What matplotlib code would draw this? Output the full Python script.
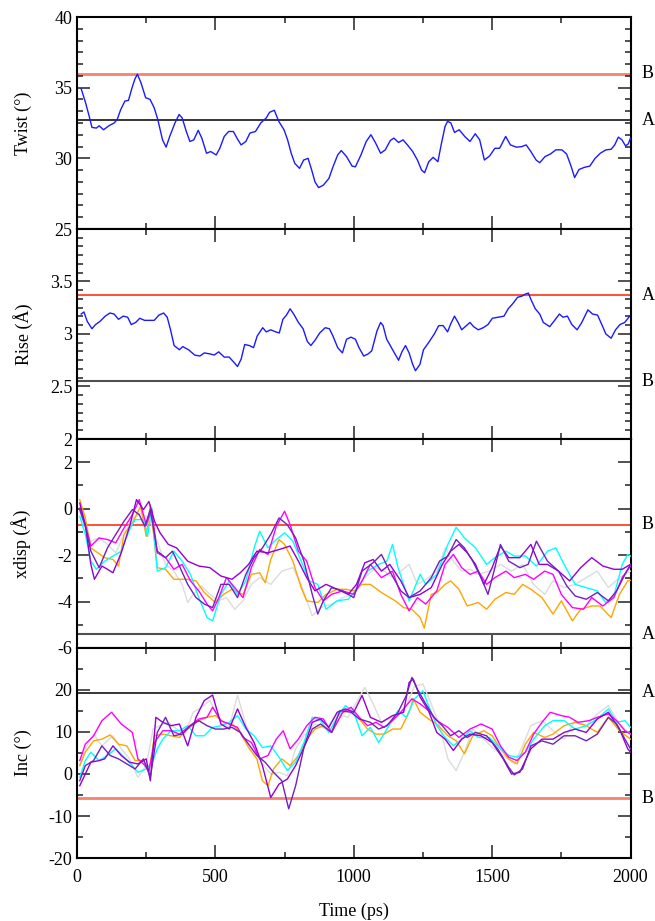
import matplotlib
matplotlib.use("Agg")
import matplotlib.pyplot as plt
from matplotlib.ticker import MultipleLocator, FuncFormatter

plt.rcParams['font.family'] = ['Liberation Serif', 'DejaVu Serif']

# ---- Twist (deg) ----
twist_t = [15, 31, 44, 54, 70, 80, 96, 115, 134, 145, 158, 173, 186, 199, 209, 218, 231, 248, 264, 279,
           292, 309, 322, 335, 354, 369, 380, 395, 408, 422, 438, 451, 468, 483, 503, 516, 532, 548, 565, 580,
           593, 610, 625, 645, 664, 684, 696, 713, 729, 748, 761, 774, 787, 804, 819, 835, 848, 860, 873, 890,
           910, 925, 942, 955, 974, 994, 1006, 1026, 1045, 1062, 1078, 1097, 1114, 1132, 1145, 1162, 1178, 1194, 1213, 1230,
           1245, 1256, 1271, 1287, 1304, 1317, 1330, 1339, 1351, 1364, 1381, 1401, 1420, 1439, 1455, 1472, 1491, 1510, 1527, 1549,
           1566, 1588, 1607, 1623, 1640, 1659, 1672, 1691, 1711, 1730, 1752, 1769, 1786, 1798, 1814, 1833, 1853, 1872, 1891, 1911,
           1930, 1943, 1956, 1969, 1982, 1992, 2000]
twist_v = [34.93, 33.93, 32.98, 32.19, 32.14, 32.3, 32.02, 32.3, 32.5, 32.74, 33.45, 34.05, 34.1, 35.0, 35.6, 35.95, 35.36, 34.29, 34.17, 33.57,
           32.74, 31.31, 30.79, 31.55, 32.5, 33.1, 32.86, 31.9, 31.19, 31.31, 31.98, 31.43, 30.36, 30.48, 30.24, 30.71, 31.55, 31.9, 31.9, 31.36,
           30.95, 31.19, 31.79, 31.9, 32.5, 32.86, 33.26, 33.4, 32.62, 32.02, 31.31, 30.36, 29.64, 29.29, 29.88, 30.0, 29.17, 28.33, 27.93, 28.1,
           28.57, 29.4, 30.24, 30.55, 30.12, 29.45, 29.4, 30.24, 31.19, 31.67, 31.12, 30.36, 30.6, 31.26, 31.43, 31.12, 31.31, 30.95, 30.48, 29.88,
           29.17, 28.98, 29.76, 30.07, 29.76, 31.07, 32.26, 32.62, 32.5, 31.83, 32.02, 31.55, 31.19, 31.74, 31.31, 29.88, 30.17, 30.71, 30.71, 31.55,
           30.95, 30.79, 30.83, 30.95, 30.48, 29.88, 29.69, 30.12, 30.31, 30.6, 30.6, 30.31, 29.4, 28.64, 29.21, 29.36, 29.45, 30.0, 30.36, 30.6,
           30.64, 30.95, 31.5, 31.31, 30.88, 31.02, 31.43]

# ---- Rise (A) ----
rise_t = [15, 25, 37, 54, 67, 83, 102, 119, 134, 150, 167, 183, 196, 212, 227, 244, 264, 279, 296, 313,
          326, 338, 351, 370, 382, 403, 425, 444, 460, 481, 496, 512, 532, 550, 567, 580, 593, 606, 623, 638,
          651, 671, 684, 700, 718, 731, 744, 757, 770, 783, 800, 817, 832, 845, 860, 877, 897, 912, 925, 942,
          959, 974, 990, 1006, 1019, 1036, 1052, 1065, 1084, 1097, 1106, 1119, 1136, 1149, 1162, 1174, 1187, 1200, 1213, 1223,
          1239, 1252, 1271, 1291, 1307, 1323, 1339, 1351, 1364, 1377, 1390, 1407, 1420, 1433, 1450, 1468, 1485, 1501, 1523, 1543,
          1558, 1575, 1592, 1607, 1620, 1631, 1640, 1656, 1672, 1685, 1708, 1723, 1743, 1756, 1772, 1788, 1807, 1824, 1846, 1863,
          1881, 1898, 1911, 1930, 1946, 1962, 1979, 1997]
rise_v = [3.19, 3.21, 3.12, 3.05, 3.09, 3.12, 3.17, 3.2, 3.19, 3.14, 3.17, 3.16, 3.09, 3.11, 3.15, 3.13, 3.13, 3.13, 3.18, 3.2,
          3.16, 3.04, 2.89, 2.85, 2.88, 2.85, 2.8, 2.79, 2.82, 2.81, 2.8, 2.83, 2.78, 2.78, 2.73, 2.69, 2.76, 2.9, 2.89, 2.87,
          2.98, 3.06, 3.02, 3.04, 3.02, 3.01, 3.14, 3.18, 3.24, 3.19, 3.11, 3.05, 2.93, 2.89, 2.94, 3.01, 3.06, 3.05, 2.98, 2.87,
          2.82, 2.95, 2.97, 2.95, 2.87, 2.79, 2.81, 2.84, 3.03, 3.11, 3.08, 2.95, 2.87, 2.81, 2.75, 2.83, 2.89, 2.82, 2.71, 2.65,
          2.71, 2.85, 2.92, 3.0, 3.08, 3.08, 3.02, 3.1, 3.17, 3.11, 3.04, 3.08, 3.11, 3.07, 3.04, 3.06, 3.09, 3.15, 3.16, 3.17,
          3.24, 3.29, 3.35, 3.36, 3.38, 3.39, 3.33, 3.24, 3.19, 3.11, 3.07, 3.12, 3.19, 3.16, 3.17, 3.09, 3.04, 3.11, 3.23, 3.19,
          3.18, 3.08, 3.0, 2.96, 3.04, 3.09, 3.11, 3.17]

# ---- xdisp (A), six runs ----
xd_gray_t = [10, 30, 50, 80, 110, 140, 170, 200, 230, 260, 290, 320, 350, 380, 400, 420, 450, 480, 510, 540,
             570, 600, 630, 660, 700, 740, 780, 810, 850, 880, 920, 960, 1000, 1040, 1080, 1110, 1140, 1170, 1200, 1230,
             1270, 1300, 1330, 1360, 1390, 1420, 1450, 1490, 1530, 1570, 1610, 1650, 1690, 1720, 1760, 1800, 1840, 1880, 1920, 1960, 2000]
xd_gray_v = [-0.11, -0.83, -1.4, -1.26, -1.54, -1.9, -1.11, -0.47, -0.19, -0.4, -1.4, -2.4, -2.69, -3.26, -4.04, -3.69, -3.33, -3.69, -3.97, -3.83,
             -4.33, -3.97, -3.26, -2.97, -3.26, -2.69, -2.54, -3.26, -4.61, -4.26, -4.11, -3.83, -3.69, -2.97, -2.54, -2.69, -2.97, -2.69, -2.4, -3.26,
             -2.97, -2.69, -1.69, -2.26, -2.69, -2.61, -2.83, -2.69, -2.4, -2.69, -2.4, -3.26, -3.69, -3.11, -3.4, -3.26, -2.97, -2.69, -3.4, -2.97, -2.69]

xd_orange_t = [10, 30, 50, 100, 130, 150, 170, 200, 230, 250, 265, 290, 320, 350, 400, 430, 460, 480, 500, 530,
               560, 600, 630, 660, 680, 700, 730, 750, 780, 810, 830, 870, 900, 940, 970, 1000, 1030, 1060, 1100, 1150,
               1180, 1210, 1240, 1255, 1280, 1300, 1330, 1350, 1380, 1410, 1450, 1480, 1510, 1550, 1580, 1610, 1640, 1680, 1720, 1750,
               1790, 1820, 1860, 1890, 1930, 1960, 1990, 2000]
xd_orange_v = [0.39, -0.4, -1.69, -2.11, -2.19, -2.47, -1.11, -0.61, 0.1, -1.19, 0.17, -2.54, -2.61, -3.04, -3.04, -3.11, -3.61, -3.83, -4.04, -3.69,
               -3.47, -3.69, -2.83, -2.76, -3.19, -2.19, -1.33, -1.54, -2.26, -3.4, -3.97, -4.04, -3.69, -3.47, -3.47, -3.54, -3.26, -3.26, -3.61, -3.97,
               -4.26, -4.33, -4.69, -5.14, -3.69, -3.61, -3.26, -3.11, -3.47, -4.19, -4.04, -4.33, -3.9, -3.61, -3.69, -3.26, -3.47, -3.83, -4.54, -3.97,
               -4.83, -4.33, -4.19, -4.19, -4.69, -3.69, -3.11, -3.09]

xd_cyan_t = [10, 30, 50, 70, 100, 130, 160, 190, 210, 240, 255, 270, 290, 320, 350, 380, 410, 440, 470, 490,
             520, 550, 580, 610, 640, 660, 690, 720, 750, 780, 810, 840, 870, 900, 940, 980, 1020, 1050, 1090, 1120,
             1140, 1160, 1200, 1240, 1260, 1300, 1340, 1370, 1400, 1440, 1480, 1510, 1550, 1580, 1620, 1660, 1700, 1730, 1760, 1800,
             1840, 1880, 1910, 1940, 1970, 1990, 2000]
xd_cyan_v = [-0.33, -1.11, -2.26, -2.61, -2.26, -2.04, -1.83, -0.9, -0.47, -0.47, -1.19, 0.03, -2.69, -2.54, -1.83, -2.26, -2.83, -3.83, -4.69, -4.83,
             -3.69, -3.11, -3.69, -3.11, -1.69, -0.97, -1.69, -1.33, -1.04, -1.4, -2.26, -3.11, -3.26, -4.33, -3.97, -3.9, -3.33, -2.69, -2.4, -2.26,
             -1.54, -2.54, -3.97, -2.83, -3.26, -2.83, -1.54, -0.8, -1.26, -1.69, -2.4, -2.11, -1.83, -2.04, -2.04, -2.47, -1.83, -1.69, -2.4, -3.26,
             -3.4, -3.54, -4.04, -3.76, -2.4, -1.97, -2.04]

xd_magenta_t = [10, 30, 50, 80, 110, 140, 170, 200, 225, 250, 270, 290, 320, 350, 380, 410, 440, 470, 490, 510,
                540, 570, 600, 630, 660, 690, 720, 750, 770, 800, 830, 860, 890, 920, 960, 1000, 1030, 1060, 1100, 1140,
                1170, 1200, 1230, 1260, 1300, 1330, 1360, 1390, 1420, 1450, 1480, 1510, 1550, 1580, 1620, 1650, 1690, 1720, 1750, 1790,
                1830, 1860, 1900, 1940, 1970, 2000]
xd_magenta_v = [0.03, -0.69, -1.61, -1.26, -1.33, -1.47, -0.83, -0.26, 0.39, -0.69, -0.04, -1.9, -2.11, -2.61, -2.4, -3.11, -3.54, -4.11, -4.4, -3.9,
                -2.97, -3.4, -3.83, -2.54, -1.76, -1.97, -0.76, -0.11, -0.69, -1.83, -2.26, -3.4, -3.97, -3.69, -3.54, -3.69, -3.11, -2.4, -2.97, -2.69,
                -3.69, -4.4, -3.83, -4.11, -3.54, -2.4, -1.97, -2.54, -2.83, -2.69, -3.26, -2.97, -2.69, -2.97, -2.83, -3.04, -2.69, -2.83, -3.69, -4.26,
                -4.33, -3.83, -4.19, -3.83, -2.97, -2.47]

xd_violet_t = [10, 30, 50, 63, 90, 110, 130, 160, 190, 215, 240, 260, 280, 300, 330, 360, 400, 440, 480, 520,
               560, 590, 620, 650, 690, 730, 770, 800, 830, 860, 900, 940, 980, 1010, 1040, 1070, 1100, 1130, 1170, 1200,
               1240, 1280, 1320, 1350, 1380, 1410, 1440, 1470, 1500, 1530, 1560, 1600, 1640, 1670, 1700, 1740, 1780, 1820, 1860, 1900,
               1940, 1970, 2000]
xd_violet_v = [0.24, -0.69, -2.4, -3.04, -2.47, -2.61, -2.76, -1.9, -0.76, 0.39, -0.04, 0.31, -0.54, -1.04, -1.54, -1.69, -2.26, -2.47, -2.54, -2.9,
               -3.04, -2.76, -2.4, -1.83, -1.9, -1.76, -1.61, -2.26, -2.97, -3.54, -3.26, -3.47, -3.69, -3.26, -2.33, -2.19, -2.69, -2.4, -3.11, -3.83,
               -3.69, -3.4, -2.4, -1.83, -1.54, -1.9, -2.4, -3.26, -2.54, -1.61, -2.11, -2.11, -1.54, -2.4, -2.4, -2.69, -3.11, -2.54, -2.11, -2.47,
               -2.61, -2.61, -2.4]

xd_indigo_t = [10, 30, 50, 80, 110, 140, 170, 200, 225, 245, 265, 290, 320, 345, 370, 400, 430, 460, 490, 520,
               550, 580, 610, 640, 670, 700, 730, 760, 790, 820, 850, 870, 890, 920, 960, 1000, 1030, 1070, 1100, 1130,
               1170, 1200, 1240, 1280, 1310, 1340, 1370, 1400, 1430, 1460, 1485, 1510, 1530, 1560, 1600, 1630, 1660, 1700, 1740, 1770,
               1800, 1840, 1880, 1920, 1950, 1980, 2000]
xd_indigo_v = [-0.04, -0.76, -1.83, -2.54, -1.69, -1.11, -0.54, -0.04, -0.26, -0.76, -0.04, -1.83, -2.11, -1.83, -2.47, -3.26, -3.83, -4.11, -4.26, -3.26,
               -3.26, -3.83, -2.83, -2.11, -1.69, -1.11, -0.4, -0.69, -1.26, -2.26, -3.69, -4.54, -3.97, -3.4, -3.54, -3.83, -2.69, -2.33, -1.97, -2.69,
               -3.54, -3.83, -3.54, -2.97, -2.26, -2.04, -1.33, -1.69, -2.26, -2.97, -3.69, -2.54, -1.54, -2.26, -2.54, -2.4, -1.4, -2.26, -2.69, -3.33,
               -3.76, -3.9, -3.61, -3.97, -3.54, -2.83, -2.4]

# ---- Inc (deg), six runs ----
inc_gray_t = [10, 30, 60, 90, 130, 160, 190, 220, 250, 275, 300, 330, 360, 390, 420, 450, 480, 510, 550, 580,
              610, 640, 670, 700, 730, 760, 790, 820, 860, 900, 940, 980, 1010, 1040, 1070, 1100, 1140, 1180, 1220, 1250,
              1280, 1310, 1340, 1370, 1400, 1430, 1470, 1500, 1540, 1580, 1610, 1640, 1680, 1720, 1760, 1800, 1840, 1880, 1920, 1960, 2000]
inc_gray_v = [2.0, 6.0, 9.5, 6.7, 9.1, 6.0, 3.6, -0.8, 2.0, 10.7, 11.5, 12.3, 10.7, 9.5, 14.7, 15.9, 17.5, 13.5, 11.1, 18.7,
              11.9, 6.7, 2.4, 0.0, 0.4, -0.4, 6.0, 9.1, 11.9, 10.7, 14.3, 13.5, 17.1, 20.6, 16.7, 12.3, 13.5, 14.7, 21.0, 21.4,
              16.7, 11.5, 3.6, 0.8, 5.2, 10.7, 8.3, 6.3, 4.4, 2.4, 6.7, 11.5, 12.7, 10.3, 8.3, 12.7, 11.5, 14.3, 16.3, 11.9, 9.5]

inc_orange_t = [10, 30, 60, 90, 120, 150, 180, 210, 240, 260, 280, 310, 340, 370, 400, 440, 470, 500, 530, 560,
                590, 620, 650, 670, 690, 710, 740, 770, 800, 830, 860, 890, 920, 960, 990, 1020, 1050, 1080, 1110, 1140,
                1170, 1200, 1215, 1240, 1270, 1300, 1340, 1370, 1400, 1430, 1470, 1500, 1530, 1560, 1590, 1620, 1650, 1690, 1720, 1760,
                1800, 1840, 1880, 1920, 1960, 2000]
inc_orange_v = [2.0, 5.2, 7.9, 8.3, 9.3, 7.1, 6.7, 3.2, 3.2, 0.4, 9.1, 9.5, 9.1, 8.7, 10.7, 12.7, 13.5, 13.9, 12.3, 11.9,
                9.9, 6.3, 3.6, -1.6, -2.8, 1.2, 3.6, 2.0, 4.4, 8.3, 10.7, 11.5, 9.9, 14.7, 15.1, 13.1, 10.7, 9.5, 9.5, 10.7,
                10.7, 14.7, 17.9, 14.7, 13.1, 11.9, 9.1, 7.9, 4.8, 9.1, 10.3, 9.1, 6.0, 3.6, 2.4, 7.1, 9.9, 8.7, 9.5, 11.5,
                12.3, 11.5, 9.9, 13.5, 10.3, 8.3]

inc_cyan_t = [10, 30, 50, 80, 110, 140, 170, 200, 220, 250, 275, 290, 310, 340, 370, 400, 430, 460, 490, 520,
              550, 580, 610, 640, 670, 700, 730, 760, 790, 820, 850, 880, 910, 940, 970, 1000, 1030, 1060, 1090, 1120,
              1160, 1190, 1220, 1250, 1270, 1300, 1330, 1360, 1390, 1420, 1450, 1490, 1520, 1560, 1590, 1620, 1650, 1690, 1720, 1760,
              1800, 1840, 1880, 1920, 1950, 1980, 2000]
inc_cyan_v = [-0.8, 3.2, 5.2, 3.2, 4.4, 6.0, 4.0, 2.0, 0.4, 1.2, 3.2, 6.0, 8.3, 10.3, 10.3, 11.5, 9.1, 9.1, 11.1, 11.5,
              12.3, 13.9, 10.7, 9.1, 6.3, 6.7, 4.0, 0.8, 2.8, 7.5, 13.5, 12.7, 9.9, 13.5, 16.3, 14.7, 9.1, 11.1, 7.5, 10.7,
              15.1, 13.5, 17.9, 19.8, 16.3, 11.5, 8.7, 6.7, 8.3, 10.3, 8.7, 8.7, 6.7, 4.4, 4.0, 5.2, 8.3, 11.5, 12.7, 12.7,
              10.7, 11.5, 13.1, 15.5, 12.3, 12.7, 11.1]

inc_magenta_t = [10, 30, 60, 90, 125, 160, 200, 220, 240, 260, 280, 310, 340, 370, 400, 440, 470, 490, 520, 550,
                 580, 600, 630, 660, 690, 720, 745, 770, 800, 830, 860, 890, 920, 960, 990, 1020, 1050, 1080, 1110, 1140,
                 1170, 1210, 1240, 1270, 1300, 1340, 1380, 1420, 1460, 1500, 1530, 1560, 1590, 1620, 1650, 1680, 1710, 1750, 1780, 1810,
                 1850, 1880, 1920, 1950, 1980, 2000]
inc_magenta_v = [3.2, 7.1, 9.1, 12.7, 14.7, 11.9, 9.9, 3.6, 2.4, 0.8, 7.5, 10.3, 10.3, 9.5, 11.1, 13.1, 13.5, 15.9, 12.7, 11.9,
                 11.1, 8.7, 7.5, 3.6, 4.4, 8.3, 10.3, 6.0, 8.3, 11.5, 13.5, 13.1, 9.9, 14.7, 15.9, 13.5, 11.5, 12.3, 11.1, 12.7,
                 14.7, 17.9, 16.7, 15.1, 12.7, 11.1, 8.7, 10.7, 11.9, 10.7, 6.7, 4.0, 3.2, 5.2, 9.5, 12.3, 14.7, 13.9, 13.5, 12.3,
                 12.7, 13.5, 14.3, 12.7, 10.3, 9.5]

inc_violet_t = [10, 30, 50, 80, 100, 130, 160, 190, 220, 250, 265, 285, 310, 340, 370, 400, 430, 460, 490, 520,
                550, 580, 610, 640, 670, 700, 730, 760, 790, 820, 850, 880, 910, 940, 970, 1000, 1030, 1060, 1100, 1140,
                1180, 1200, 1215, 1240, 1270, 1300, 1330, 1360, 1390, 1420, 1460, 1500, 1540, 1570, 1600, 1640, 1680, 1720, 1760, 1800,
                1840, 1880, 1920, 1960, 1990, 2000]
inc_violet_v = [-2.8, 0.0, 2.8, 3.2, 3.6, 6.7, 4.4, 2.8, 2.4, 3.6, -1.6, 13.5, 12.3, 11.5, 11.9, 6.7, 13.5, 17.5, 18.8, 11.9,
                10.7, 15.5, 11.1, 7.5, 2.0, -5.6, -2.4, -1.2, 2.0, 6.3, 12.3, 13.1, 11.1, 14.7, 15.5, 14.7, 18.7, 13.5, 12.3, 13.9,
                14.7, 21.8, 22.6, 18.3, 15.1, 9.9, 8.3, 5.6, 8.3, 9.5, 9.1, 7.5, 3.6, 0.0, 0.4, 6.0, 8.3, 8.3, 9.9, 10.7,
                9.9, 13.1, 14.7, 10.7, 6.0, 5.2]

inc_indigo_t = [10, 30, 60, 90, 120, 150, 180, 210, 240, 265, 290, 320, 350, 380, 410, 440, 470, 500, 530, 560,
                590, 620, 650, 680, 710, 740, 765, 790, 820, 850, 880, 920, 950, 990, 1020, 1060, 1090, 1120, 1160, 1190,
                1210, 1230, 1260, 1290, 1320, 1350, 1380, 1410, 1440, 1480, 1520, 1560, 1580, 1610, 1640, 1680, 1720, 1760, 1800, 1840,
                1880, 1920, 1950, 1980, 2000]
inc_indigo_v = [-1.6, 2.0, 3.2, 6.7, 4.4, 3.6, 2.4, 1.2, 3.6, -0.8, 9.9, 13.5, 9.1, 9.5, 11.5, 12.7, 11.5, 10.7, 10.7, 11.1,
                9.9, 7.1, 4.4, 2.8, 0.4, -1.6, -8.3, -2.8, 6.3, 10.7, 11.9, 9.9, 15.1, 14.7, 13.1, 12.3, 10.7, 11.5, 14.7, 18.7,
                23.0, 20.2, 16.7, 13.5, 11.5, 9.1, 10.3, 8.7, 9.9, 9.1, 6.0, 1.6, -0.2, 1.2, 6.7, 7.9, 7.1, 9.1, 9.1, 7.9,
                9.5, 13.5, 11.9, 8.3, 6.0]

# reference values (A / B forms)
twist_ref = {'A': 32.7, 'B': 36.0}
rise_ref = {'A': 3.37, 'B': 2.55}
xdisp_ref = {'A': -5.4, 'B': -0.7}
inc_ref = {'A': 19.4, 'B': -5.8}

run_colors = ['#dcdcdc', '#ffa500', '#00ffff', '#ff00ff', '#9400d3', '#7221bc']

W, H = 655, 921
fig = plt.figure(figsize=(W / 100, H / 100), dpi=100)
left = 77 / W
width = (630.5 - 77) / W
edges = [17, 229, 439, 648, 858]
axes = []
for i in range(4):
    top, bot = edges[i], edges[i + 1]
    ax = fig.add_axes([left, 1 - bot / H, width, (bot - top) / H])
    axes.append(ax)

fs = 13
fmt = FuncFormatter(lambda v, p: '%g' % v)


def style(ax, ylim, yticks, yminor, bottom=False):
    ax.set_xlim(0, 2000)
    ax.set_ylim(*ylim)
    ax.set_yticks(yticks)
    ax.yaxis.set_minor_locator(MultipleLocator(yminor))
    ax.yaxis.set_major_formatter(fmt)
    ax.xaxis.set_major_locator(MultipleLocator(500))
    ax.xaxis.set_minor_locator(MultipleLocator(250))
    ax.tick_params(which='both', direction='in', top=True, right=True, colors='#222222', labelcolor='black',
                   labelsize=fs, width=1.1)
    ax.tick_params(which='major', length=9.4)
    ax.tick_params(which='minor', length=4.6)
    if not bottom:
        ax.tick_params(labelbottom=False)
    for s in ax.spines.values():
        s.set_linewidth(1.5)


def refline(ax, y, label, color, lw):
    ax.axhline(y, color=color, lw=lw, zorder=1)
    ax.annotate(label, xy=(1, y), xycoords=('axes fraction', 'data'), xytext=(8, 0),
                textcoords='offset points', va='center', ha='left', fontsize=fs)


# Twist
ax = axes[0]
ax.plot(twist_t, twist_v, color='#1a1aff', lw=1.0, zorder=3)
refline(ax, twist_ref['B'], 'B', '#fa8072', 2.0)
refline(ax, twist_ref['A'], 'A', 'black', 1.1)
style(ax, (25, 40), [25, 30, 35, 40], 5 / 6)
ax.set_ylabel('Twist (°)', fontsize=fs, labelpad=16)

# Rise
ax = axes[1]
ax.plot(rise_t, rise_v, color='#1a1aff', lw=1.0, zorder=3)
refline(ax, rise_ref['A'], 'A', '#ff2000', 1.1)
refline(ax, rise_ref['B'], 'B', '#505050', 1.5)
style(ax, (2, 4), [2, 2.5, 3, 3.5], 0.5 / 6)
ax.set_ylabel('Rise (Å)', fontsize=fs, labelpad=12)

# xdisp
ax = axes[2]
xd_runs = [(xd_gray_t, xd_gray_v), (xd_orange_t, xd_orange_v), (xd_cyan_t, xd_cyan_v),
           (xd_magenta_t, xd_magenta_v), (xd_violet_t, xd_violet_v), (xd_indigo_t, xd_indigo_v)]
for (t, v), c in zip(xd_runs, run_colors):
    ax.plot(t, v, color=c, lw=1.0, zorder=3)
refline(ax, xdisp_ref['B'], 'B', '#ff2000', 1.1)
refline(ax, xdisp_ref['A'], 'A', '#505050', 1.5)
style(ax, (-6, 3), [-6, -4, -2, 0, 2], 1)
ax.set_ylabel('xdisp (Å)', fontsize=fs, labelpad=19)

# Inc
ax = axes[3]
inc_runs = [(inc_gray_t, inc_gray_v), (inc_orange_t, inc_orange_v), (inc_cyan_t, inc_cyan_v),
            (inc_magenta_t, inc_magenta_v), (inc_violet_t, inc_violet_v), (inc_indigo_t, inc_indigo_v)]
for (t, v), c in zip(inc_runs, run_colors):
    ax.plot(t, v, color=c, lw=1.0, zorder=3)
refline(ax, inc_ref['A'], 'A', 'black', 1.1)
refline(ax, inc_ref['B'], 'B', '#fa8072', 2.0)
style(ax, (-20, 30), [-20, -10, 0, 10, 20], 5, bottom=True)
ax.set_ylabel('Inc (°)', fontsize=fs, labelpad=12)
ax.set_xlabel('Time (ps)', fontsize=fs, labelpad=12)
ax.tick_params(axis='x', pad=8)

fig.savefig('out.png', dpi=100)
